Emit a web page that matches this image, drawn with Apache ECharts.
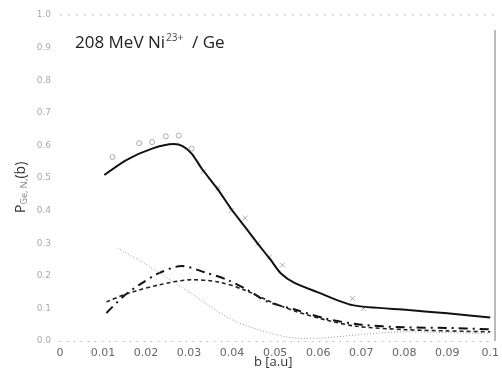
<!DOCTYPE html>
<html>
<head>
<meta charset="utf-8">
<script src="https://cdn.jsdelivr.net/npm/echarts@6/dist/echarts.min.js"></script>
<style>
  html, body { margin: 0; padding: 0; background: #fff; }
  #chart { width: 502px; height: 380px; }
</style>
</head>
<body>
<div id="chart"></div>
<script>
// impact parameter b [a.u] and probabilities
const solidB = [0.0103, 0.0154, 0.0214, 0.0264, 0.0285, 0.0306, 0.0329, 0.0368, 0.0398, 0.0430, 0.0460, 0.0490, 0.0513, 0.0545, 0.0598, 0.0680, 0.0810, 0.0900, 0.1000];
const solidP = [0.509, 0.555, 0.590, 0.604, 0.598, 0.575, 0.530, 0.463, 0.405, 0.350, 0.298, 0.248, 0.208, 0.178, 0.150, 0.110, 0.095, 0.085, 0.072];

const dashDotB = [0.0108, 0.0150, 0.0184, 0.0230, 0.0283, 0.0338, 0.0390, 0.0437, 0.0480, 0.0550, 0.0620, 0.0700, 0.0800, 0.0900, 0.1000];
const dashDotP = [0.086, 0.140, 0.172, 0.208, 0.230, 0.210, 0.187, 0.156, 0.122, 0.095, 0.068, 0.050, 0.042, 0.040, 0.036];

const dashedB = [0.0108, 0.0160, 0.0230, 0.0306, 0.0368, 0.0430, 0.0490, 0.0550, 0.0620, 0.0690, 0.0800, 0.0900, 0.1000];
const dashedP = [0.120, 0.147, 0.172, 0.188, 0.181, 0.156, 0.120, 0.090, 0.064, 0.045, 0.035, 0.031, 0.028];

const dottedB = [0.0134, 0.0200, 0.0300, 0.0400, 0.0500, 0.0560, 0.0620, 0.0700, 0.0800, 0.0900, 0.1000];
const dottedP = [0.285, 0.235, 0.150, 0.065, 0.020, 0.008, 0.010, 0.020, 0.028, 0.026, 0.022];

// experimental points: open circles and crosses
const circleB = [0.0122, 0.0184, 0.0214, 0.0246, 0.0276, 0.0306];
const circleP = [0.564, 0.607, 0.610, 0.628, 0.630, 0.590];
const crossB = [0.0333, 0.0368, 0.0398, 0.0430, 0.0460, 0.0487, 0.0517, 0.0680, 0.0705];
const crossP = [0.520, 0.470, 0.400, 0.377, 0.300, 0.258, 0.233, 0.130, 0.100];

const xTicks = ['0', '0.01', '0.02', '0.03', '0.04', '0.05', '0.06', '0.07', '0.08', '0.09', '0.1'];
const yTicks = ['0.0', '0.1', '0.2', '0.3', '0.4', '0.5', '0.6', '0.7', '0.8', '0.9', '1.0'];

function pairs(xs, ys) {
  return xs.map((x, i) => [x, ys[i]]);
}

const chart = echarts.init(document.getElementById('chart'));

chart.setOption({
  animation: false,
  grid: { left: 60, right: 7, top: 15, bottom: 39 },
  xAxis: {
    type: 'value',
    min: 0,
    max: 0.1,
    interval: 0.01,
    axisLine: { show: true, lineStyle: { color: '#bbb', type: [1, 6] } },
    axisTick: { show: false },
    splitLine: { show: false },
    axisLabel: {
      color: '#666',
      fontFamily: 'DejaVu Sans',
      fontSize: 11,
      margin: 7,
      formatter: (v) => xTicks[Math.round(v * 100)]
    }
  },
  yAxis: {
    type: 'value',
    min: 0,
    max: 1,
    interval: 0.1,
    axisLine: { show: false },
    axisTick: { show: false },
    splitLine: { show: false },
    axisLabel: {
      color: '#aaa',
      fontFamily: 'DejaVu Sans',
      fontSize: 9,
      margin: 9,
      formatter: (v) => yTicks[Math.round(v * 10)]
    }
  },
  graphic: [
    // top frame line (faint dotted) and right border
    { type: 'line', shape: { x1: 60, y1: 15, x2: 495, y2: 15 }, style: { stroke: '#bbb', lineWidth: 1, lineDash: [2, 6] } },
    { type: 'line', shape: { x1: 495, y1: 30, x2: 495, y2: 341 }, style: { stroke: '#777', lineWidth: 1 } },
    {
      type: 'text', left: 75, top: 33,
      style: {
        text: '{a|208 MeV Ni}{s|23+}{a|  / Ge}',
        rich: {
          a: { fontSize: 17, fontFamily: 'Open Sans', fill: '#222' },
          s: { fontSize: 10, fontFamily: 'Open Sans', fill: '#444', verticalAlign: 'top', padding: [0, 0, 10, 1] }
        }
      }
    },
    {
      type: 'text', x: 13, y: 213, rotation: Math.PI / 2,
      style: {
        text: '{p|P}{s|Ge, N}{ss|v}{p|(b)}',
        rich: {
          p: { fontSize: 14, fontFamily: 'Open Sans', fill: '#333' },
          s: { fontSize: 9, fontFamily: 'Open Sans', fill: '#888', padding: [7, 0, 0, 0] },
          ss: { fontSize: 6, fontFamily: 'Open Sans', fill: '#888', padding: [10, 0, 0, 0] }
        }
      }
    },
    {
      type: 'text', left: 254, top: 356,
      style: { text: 'b [a.u]', fontSize: 13, fontFamily: 'Open Sans', fill: '#333' }
    }
  ],
  series: [
    {
      name: 'solid', type: 'line', smooth: 0.25, symbol: 'none',
      lineStyle: { color: '#111', width: 2 },
      data: pairs(solidB, solidP)
    },
    {
      name: 'dash-dot', type: 'line', smooth: 0.3, symbol: 'none',
      lineStyle: { color: '#111', width: 2, type: [9, 5, 2, 5] },
      data: pairs(dashDotB, dashDotP)
    },
    {
      name: 'dashed', type: 'line', smooth: 0.3, symbol: 'none',
      lineStyle: { color: '#222', width: 1.6, type: [4, 3] },
      data: pairs(dashedB, dashedP)
    },
    {
      name: 'dotted', type: 'line', smooth: 0.3, symbol: 'none',
      lineStyle: { color: '#999', width: 1, type: [1, 2] },
      data: pairs(dottedB, dottedP)
    },
    {
      name: 'circles', type: 'scatter', symbol: 'circle', symbolSize: 5,
      itemStyle: { color: '#fff', borderColor: '#999', borderWidth: 1 },
      data: pairs(circleB, circleP)
    },
    {
      name: 'crosses', type: 'scatter',
      symbol: 'path://M0,0L10,10M10,0L0,10', symbolSize: 5,
      itemStyle: { color: 'none', borderColor: '#999', borderWidth: 1 },
      data: pairs(crossB, crossP)
    }
  ]
});
</script>
</body>
</html>
